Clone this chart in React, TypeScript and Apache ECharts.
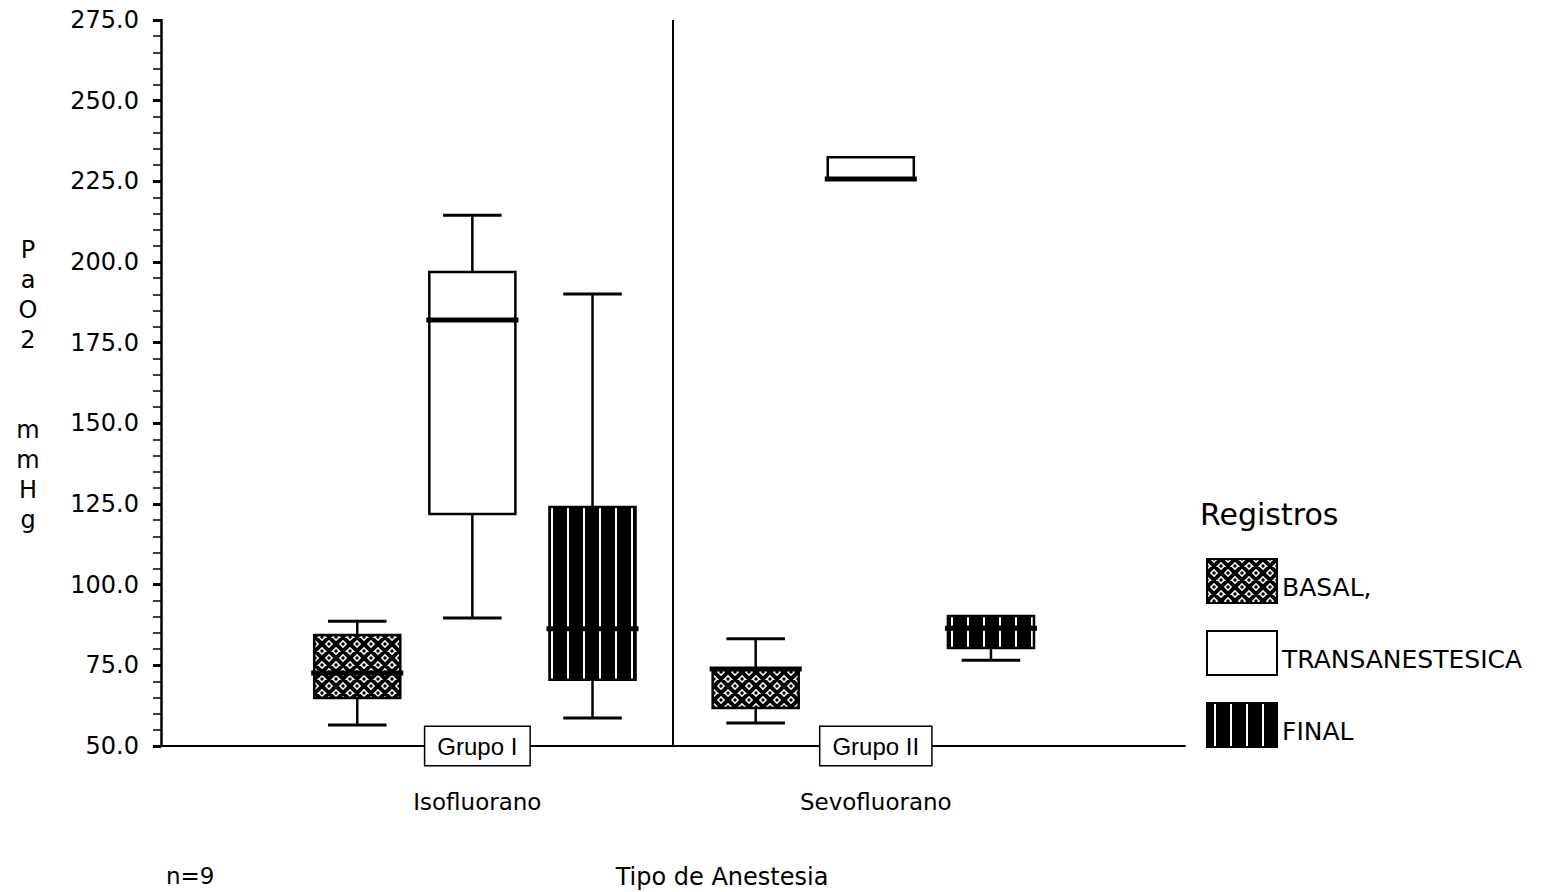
import React, { useEffect, useRef } from 'react';
import * as echarts from 'echarts';

// ---------- data ----------
const groups = ['Grupo I', 'Grupo II'];
const anesthetics = ['Isofluorano', 'Sevofluorano'];
const seriesNames = ['BASAL,', 'TRANSANESTESICA', 'FINAL'];
// each row: [min, Q1, median, Q3, max] for Grupo I and Grupo II
const basal = [
  [56.5, 64.9, 72.6, 84.4, 88.7],
  [57.1, 61.8, 73.9, 73.9, 83.2],
];
const transanestesica = [
  [89.7, 121.9, 182.0, 196.9, 214.5],
  [225.7, 225.7, 225.7, 232.5, 232.5],
];
const finalReg = [
  [58.7, 70.5, 86.3, 124.1, 190.1],
  [76.6, 80.4, 86.5, 90.3, 90.3],
];
const yMin = 50;
const yMax = 275;
const yInterval = 25;
const legendTitle = 'Registros';
const xTitle = 'Tipo de Anestesia';
const sampleNote = 'n=9';
const yTitleParts = ['PaO2', 'mmHg'];

// ---------- layout / style constants ----------
const FONT = 'DejaVu Sans';
const X_MIN = -0.794;
const X_MAX = 1.776;
const SERIES_OFFSET = [-0.3015, -0.0126, 0.289];
const BOX_W = 0.216;
const SEPARATOR_X = 0.49;

function makeBasalPattern(): HTMLCanvasElement {
  const s = 14;
  const c = document.createElement('canvas');
  c.width = s;
  c.height = s;
  const ctx = c.getContext('2d')!;
  ctx.fillStyle = '#fff';
  ctx.fillRect(0, 0, s, s);
  ctx.strokeStyle = '#000';
  ctx.lineWidth = 4;
  ctx.beginPath();
  for (let k = -1; k <= 1; k++) {
    ctx.moveTo(-2 + k * s, -2);
    ctx.lineTo(s + 2 + k * s, s + 2);
    ctx.moveTo(-2 + k * s, s + 2);
    ctx.lineTo(s + 2 + k * s, -2);
  }
  ctx.stroke();
  ctx.fillStyle = '#000';
  const dots = [[s / 2, 0], [0, s / 2], [s, s / 2], [s / 2, s]];
  for (const [dx, dy] of dots) {
    ctx.beginPath();
    ctx.arc(dx, dy, 1.7, 0, Math.PI * 2);
    ctx.fill();
  }
  return c;
}

function makeFinalPattern(): HTMLCanvasElement {
  const w = 16;
  const h = 16;
  const c = document.createElement('canvas');
  c.width = w;
  c.height = h;
  const ctx = c.getContext('2d')!;
  ctx.fillStyle = '#000';
  ctx.fillRect(0, 0, w, h);
  ctx.fillStyle = '#fff';
  ctx.fillRect(7, 0, 2, h);
  return c;
}

export default function App() {
  const ref = useRef<HTMLDivElement>(null);

  useEffect(() => {
    if (!ref.current) return;
    const chart = echarts.init(ref.current, undefined, { renderer: 'svg' });

    const basalImg = makeBasalPattern();
    const finalImg = makeFinalPattern();
    const fills: any[] = [
      { image: basalImg.toDataURL(), repeat: 'repeat', imageWidth: 14, imageHeight: 14 },
      '#ffffff',
      { image: finalImg.toDataURL(), repeat: 'repeat', imageWidth: 16, imageHeight: 16 },
    ];
    const datasets = [basal, transanestesica, finalReg];

    const makeRender = (si: number) => (params: any, api: any) => {
      const g = api.value(0);
      const x = g + SERIES_OFFSET[si];
      const mn = api.value(1);
      const q1 = api.value(2);
      const md = api.value(3);
      const q3 = api.value(4);
      const mx = api.value(5);
      const cx = api.coord([x, md])[0];
      const w = api.size([BOX_W, 0])[0];
      const y = (v: number) => api.coord([x, v])[1];
      const cap = w * 0.68;
      const children: any[] = [];
      const lineStyle = { stroke: '#000', lineWidth: 2.5 };
      if (mx > q3) {
        children.push({ type: 'line', shape: { x1: cx, y1: y(mx), x2: cx, y2: y(q3) }, style: lineStyle });
        children.push({ type: 'line', shape: { x1: cx - cap / 2, y1: y(mx), x2: cx + cap / 2, y2: y(mx) }, style: { stroke: '#000', lineWidth: 3 } });
      }
      if (mn < q1) {
        children.push({ type: 'line', shape: { x1: cx, y1: y(mn), x2: cx, y2: y(q1) }, style: lineStyle });
        children.push({ type: 'line', shape: { x1: cx - cap / 2, y1: y(mn), x2: cx + cap / 2, y2: y(mn) }, style: { stroke: '#000', lineWidth: 3 } });
      }
      children.push({
        type: 'rect',
        shape: { x: cx - w / 2, y: y(q3), width: w, height: y(q1) - y(q3) },
        style: { fill: fills[si], stroke: '#000', lineWidth: 2.5 },
      });
      children.push({
        type: 'line',
        shape: { x1: cx - w / 2 - 3, y1: y(md), x2: cx + w / 2 + 3, y2: y(md) },
        style: { stroke: '#000', lineWidth: 5 },
      });
      return { type: 'group', children };
    };

    const option: any = {
      animation: false,
      backgroundColor: '#ffffff',
      grid: { left: 161, right: 362, top: 20, bottom: 146 },
      xAxis: [
        {
          type: 'value',
          min: X_MIN,
          max: X_MAX,
          position: 'bottom',
          axisLine: { show: true, onZero: false, lineStyle: { color: '#000', width: 2 } },
          axisTick: { show: false },
          splitLine: { show: false },
          axisLabel: {
            customValues: [0, 1],
            formatter: (v: number) => groups[Math.round(v)] ?? '',
            margin: -19,
            fontFamily: 'Liberation Sans',
            fontSize: 24,
            color: '#000',
            backgroundColor: '#fff',
            borderColor: '#000',
            borderWidth: 1.5,
            padding: [7, 12],
          },
        },
        {
          type: 'value',
          min: X_MIN,
          max: X_MAX,
          position: 'bottom',
          axisLine: { show: false },
          axisTick: { show: false },
          splitLine: { show: false },
          axisLabel: {
            customValues: [0, 1],
            formatter: (v: number) => anesthetics[Math.round(v)] ?? '',
            margin: 44,
            fontFamily: FONT,
            fontSize: 23,
            color: '#000',
          },
        },
      ],
      yAxis: {
        type: 'value',
        min: yMin,
        max: yMax,
        interval: yInterval,
        axisLine: { show: true, onZero: false, lineStyle: { color: '#000', width: 2.5 } },
        axisTick: { show: true, length: 8, lineStyle: { color: '#000', width: 3 } },
        minorTick: { show: true, splitNumber: 5, length: 8, lineStyle: { color: '#000', width: 1.5 } },
        splitLine: { show: false },
        minorSplitLine: { show: false },
        axisLabel: {
          formatter: (v: number) => v.toFixed(1),
          margin: 22,
          fontFamily: FONT,
          fontSize: 24,
          color: '#000',
        },
      },
      legend: {
        orient: 'vertical',
        left: 1206,
        top: 558,
        padding: 0,
        itemWidth: 70,
        itemHeight: 44,
        itemGap: 26,
        icon: 'rect',
        selectedMode: false,
        itemStyle: { borderColor: '#000', borderWidth: 2 },
        formatter: (name: string) => `{t|${name}}`,
        textStyle: {
          fontFamily: FONT,
          fontSize: 25,
          color: '#000',
          rich: { t: { fontFamily: FONT, fontSize: 25, color: '#000', padding: [12, 0, 0, 0] } },
        },
        data: seriesNames,
      },
      graphic: [
        {
          type: 'text',
          x: 1200,
          y: 514,
          style: { text: legendTitle, fontFamily: FONT, fontSize: 30, fill: '#000', align: 'left', verticalAlign: 'middle' },
        },
        {
          type: 'text',
          x: 722,
          y: 877,
          style: { text: xTitle, fontFamily: FONT, fontSize: 24, fill: '#000', align: 'center', verticalAlign: 'middle' },
        },
        {
          type: 'text',
          x: 166,
          y: 876,
          style: { text: sampleNote, fontFamily: FONT, fontSize: 23, fill: '#000', align: 'left', verticalAlign: 'middle' },
        },
        {
          type: 'text',
          x: 28,
          y: 385,
          style: {
            text: [...yTitleParts[0].split(''), '', '', ...yTitleParts[1].split('')].join('\n'),
            fontFamily: FONT,
            fontSize: 24,
            lineHeight: 30,
            fill: '#000',
            align: 'center',
            verticalAlign: 'middle',
          },
        },
      ],
      series: seriesNames.map((name, si) => ({
        type: 'custom',
        name,
        xAxisIndex: 0,
        yAxisIndex: 0,
        clip: false,
        renderItem: makeRender(si),
        itemStyle: { color: fills[si], borderColor: '#000', borderWidth: 2 },
        encode: { x: 0, y: [1, 2, 3, 4, 5] },
        data: datasets[si].map((d, gi) => [gi, ...d]),
        markLine:
          si === 0
            ? {
                silent: true,
                symbol: 'none',
                label: { show: false },
                lineStyle: { color: '#000', width: 2, type: 'solid' },
                data: [{ xAxis: SEPARATOR_X }],
              }
            : undefined,
      })),
    };

    chart.setOption(option);
    return () => chart.dispose();
  }, []);

  return (
    <div
      ref={ref}
      style={{ position: 'absolute', left: 0, top: 0, width: 1547, height: 892, background: '#fff' }}
    />
  );
}
